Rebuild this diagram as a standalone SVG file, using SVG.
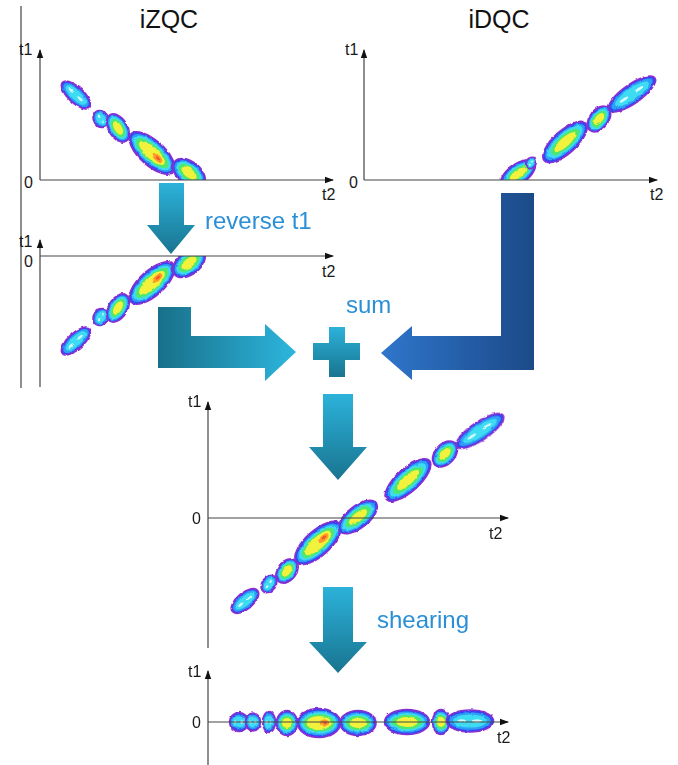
<svg xmlns="http://www.w3.org/2000/svg" width="678" height="765" viewBox="0 0 678 765">
  <style>
    .axis { stroke: #444; stroke-width: 1.2; fill: none; }
    .ax-arrow { stroke: #444; stroke-width: 1.2; fill: none; marker-end: url(#tip); }
    .lbl { font-family: "Liberation Sans", Arial, sans-serif; font-size: 16px; fill: #1a1a1a; }
    .title { font-family: "Liberation Sans", Arial, sans-serif; font-size: 25px; fill: #111; text-anchor: middle; }
    .step { font-family: "Liberation Sans", Arial, sans-serif; font-size: 24px; fill: #2a8fd6; }
    .rim { fill: #3347f2; stroke: #8a2fd2; stroke-width: 1.6; }
    .sky { fill: #2f9ff6; }
    .cya { fill: #3cdcf2; }
    .grn { fill: #4fe86e; }
    .yel { fill: #f2f23c; }
    .org { fill: #ff9a2a; }
    .red { fill: #f0562a; }
    .wht { fill: #d6fbff; }
  </style>
  <defs>
    <marker id="tip" markerUnits="userSpaceOnUse" markerWidth="9" markerHeight="8" refX="8" refY="4" orient="auto">
      <path d="M0,0.8 L9,4 L0,7.2 Z" fill="#111"/>
    </marker>

    <!-- contour blobs, unit radius 10; placed with translate/rotate/scale -->
    <g id="blob1">
      <ellipse class="rim" rx="10" ry="10" vector-effect="non-scaling-stroke"/>
      <ellipse class="sky" rx="8.8" ry="8"/>
      <ellipse class="cya" rx="7.2" ry="6"/>
      <ellipse class="wht" cx="-3.5" rx="1.8" ry="1.5"/>
      <ellipse class="wht" cx="3" rx="1.8" ry="1.5"/>
    </g>
    <g id="blob3">
      <ellipse class="rim" rx="10" ry="10" vector-effect="non-scaling-stroke"/>
      <ellipse class="sky" rx="9" ry="8.4"/>
      <ellipse class="cya" rx="8" ry="7.2"/>
      <ellipse class="grn" rx="6.6" ry="5.8"/>
      <ellipse class="yel" rx="4.8" ry="4"/>
    </g>
    <g id="blob4">
      <ellipse class="rim" rx="10" ry="10" vector-effect="non-scaling-stroke"/>
      <ellipse class="sky" rx="9.1" ry="8.5"/>
      <ellipse class="cya" rx="8.3" ry="7.4"/>
      <ellipse class="grn" rx="7.2" ry="6.2"/>
      <ellipse class="yel" rx="5.8" ry="4.8"/>
      <ellipse class="org" cx="2.5" rx="2.2" ry="2.4"/>
      <ellipse class="red" cx="2.8" rx="0.9" ry="1"/>
    </g>

    <filter id="wobble" x="-10%" y="-10%" width="120%" height="120%">
      <feTurbulence type="fractalNoise" baseFrequency="0.2" numOctaves="2" seed="3" result="n"/>
      <feDisplacementMap in="SourceGraphic" in2="n" scale="2.6" xChannelSelector="R" yChannelSelector="G" result="d"/>
      <feGaussianBlur in="d" stdDeviation="0.55"/>
    </filter>

    <clipPath id="aboveAxis"><rect x="0" y="0" width="678" height="180"/></clipPath>

    <linearGradient id="gDown" x1="0" y1="0" x2="0" y2="1">
      <stop offset="0" stop-color="#2cb2da"/>
      <stop offset="1" stop-color="#197490"/>
    </linearGradient>
    <linearGradient id="gRight" x1="0" y1="0" x2="1" y2="0">
      <stop offset="0" stop-color="#187089"/>
      <stop offset="1" stop-color="#2db6de"/>
    </linearGradient>
    <linearGradient id="gLeft" x1="0" y1="0" x2="1" y2="0">
      <stop offset="0" stop-color="#2f76cc"/>
      <stop offset="1" stop-color="#1c4a88"/>
    </linearGradient>

    <!-- iZQC ridge, reused (mirrored) for the reversed panel -->
    <g id="zqc-ridge" clip-path="url(#aboveAxis)">
      <g filter="url(#wobble)">
        <use href="#blob1" transform="translate(76,95) rotate(43) scale(1.85,0.8)"/>
        <use href="#blob1" transform="translate(101,119) rotate(55) scale(0.9,0.75)"/>
        <use href="#blob3" transform="translate(118,128) rotate(58) scale(1.55,0.95)"/>
        <use href="#blob4" transform="translate(152,153) rotate(42) scale(2.85,1.25)"/>
        <use href="#blob3" transform="translate(189,173) rotate(38) scale(1.85,1.15)"/>
      </g>
    </g>
  </defs>

  <!-- frame edge on the left -->
  <line class="axis" x1="21" y1="6" x2="21" y2="388"/>

  <!-- iZQC panel -->
  <g id="panel-izqc">
    <text class="title" x="169" y="28">iZQC</text>
    <use href="#zqc-ridge"/>
    <path class="ax-arrow" d="M40,180 V50"/>
    <path class="ax-arrow" d="M40,180 H333"/>
    <text class="lbl" x="19" y="55">t1</text>
    <text class="lbl" x="24" y="188">0</text>
    <text class="lbl" x="322" y="200">t2</text>
  </g>

  <!-- iDQC panel -->
  <g id="panel-idqc">
    <text class="title" x="499" y="28">iDQC</text>
    <g clip-path="url(#aboveAxis)">
      <g filter="url(#wobble)">
        <use href="#blob3" transform="translate(518,174) rotate(-35) scale(2.0,1.0)"/>
        <use href="#blob1" transform="translate(531,163) rotate(-55) scale(0.6,0.5)"/>
        <use href="#blob3" transform="translate(565,142) rotate(-42) scale(2.8,1.15)"/>
        <use href="#blob3" transform="translate(599,119) rotate(-52) scale(1.45,0.95)"/>
        <use href="#blob1" transform="translate(632,94) rotate(-35) scale(2.8,0.95)"/>
      </g>
    </g>
    <path class="ax-arrow" d="M364,180 V50"/>
    <path class="ax-arrow" d="M364,180 H657"/>
    <text class="lbl" x="345" y="55">t1</text>
    <text class="lbl" x="349" y="188">0</text>
    <text class="lbl" x="650" y="200">t2</text>
  </g>

  <!-- reversed-t1 panel -->
  <g id="panel-reversed">
    <use href="#zqc-ridge" transform="translate(0,436) scale(1,-1)"/>
    <path class="ax-arrow" d="M40,387 V240"/>
    <path class="ax-arrow" d="M40,256 H333"/>
    <text class="lbl" x="19" y="247">t1</text>
    <text class="lbl" x="24" y="267">0</text>
    <text class="lbl" x="322" y="277">t2</text>
  </g>

  <!-- summed panel -->
  <g id="panel-sum">
    <g filter="url(#wobble)">
      <use href="#blob1" transform="translate(245,601) rotate(-40) scale(1.65,0.82)"/>
      <use href="#blob1" transform="translate(269,584) rotate(-55) scale(0.95,0.7)"/>
      <use href="#blob3" transform="translate(287,571) rotate(-52) scale(1.35,0.95)"/>
      <use href="#blob4" transform="translate(318,543) rotate(-42) scale(2.9,1.25)"/>
      <use href="#blob3" transform="translate(358,517) rotate(-38) scale(2.3,1.1)"/>
      <use href="#blob3" transform="translate(408,480) rotate(-42) scale(2.9,1.15)"/>
      <use href="#blob3" transform="translate(445,454) rotate(-48) scale(1.5,1.0)"/>
      <use href="#blob1" transform="translate(480,431) rotate(-34) scale(2.8,0.92)"/>
    </g>
    <path class="ax-arrow" d="M208,648 V402"/>
    <path class="ax-arrow" d="M208,518 H508"/>
    <text class="lbl" x="188" y="407">t1</text>
    <text class="lbl" x="192" y="524">0</text>
    <text class="lbl" x="489" y="539">t2</text>
  </g>

  <!-- sheared panel -->
  <g id="panel-sheared">
    <g filter="url(#wobble)">
      <use href="#blob1" transform="translate(239,722) scale(0.95,0.95)"/>
      <use href="#blob1" transform="translate(253,722) scale(0.75,0.9)"/>
      <use href="#blob1" transform="translate(269,722) scale(0.65,1.05)"/>
      <use href="#blob3" transform="translate(287,723) scale(1.05,1.25)"/>
      <use href="#blob4" transform="translate(319,723) scale(2.15,1.45)"/>
      <use href="#blob3" transform="translate(358,723) scale(1.8,1.25)"/>
      <use href="#blob3" transform="translate(407,722) scale(2.25,1.25)"/>
      <use href="#blob3" transform="translate(441,722) scale(0.85,1.25)"/>
      <use href="#blob1" transform="translate(470,721) scale(2.35,1.1)"/>
    </g>
    <path class="ax-arrow" d="M208,765 V671"/>
    <path class="ax-arrow" d="M208,722 H508"/>
    <text class="lbl" x="188" y="677">t1</text>
    <text class="lbl" x="192" y="728">0</text>
    <text class="lbl" x="497" y="743">t2</text>
  </g>

  <!-- processing arrows -->
  <g id="step-reverse">
    <path d="M159,183 H184 V225 H195 L171,254 L147,225 H159 Z" fill="url(#gDown)"/>
    <text class="step" x="205" y="229">reverse t1</text>
  </g>

  <g id="step-sum">
    <path d="M158,307 H191 V336 H265 V324 L296,352 L265,381 V368 H158 Z" fill="url(#gRight)"/>
    <path d="M501,193 H534 V370 H412 V380 L381,353 L412,326 V336 H501 Z" fill="url(#gLeft)"/>
    <path d="M329,327 H345 V343 H360 V360 H345 V377 H329 V360 H313 V343 H329 Z" fill="url(#gDown)"/>
    <text class="step" x="346" y="313">sum</text>
    <path d="M323,394 H353 V447 H367 L338,480 L309,447 H323 Z" fill="url(#gDown)"/>
  </g>

  <g id="step-shearing">
    <path d="M323,587 H353 V642 H367 L338,673 L309,642 H323 Z" fill="url(#gDown)"/>
    <text class="step" x="377" y="628">shearing</text>
  </g>
</svg>
